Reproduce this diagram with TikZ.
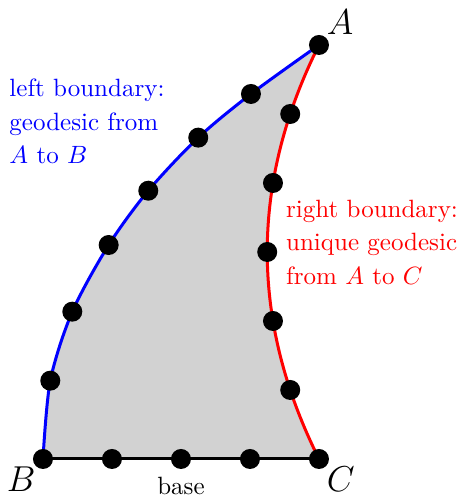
\documentclass[tikz,border=0pt]{standalone}
\usetikzlibrary{positioning}

\begin{document}
\begin{tikzpicture}[x=0.97cm, y=0.97cm,
                    side/.style={very thick},
                    corner/.style={font=\Large, inner sep=1pt},
                    note/.style={align=left, inner sep=0pt, anchor=north west,
                                 font=\fontsize{10}{13.4}\selectfont}
                    ]
                    \useasboundingbox (-0.623,-0.551) rectangle (6.072,6.652);

                    \coordinate (B) at (0,0);
                    \coordinate (C) at (4,0);
                    \coordinate (A) at (4,6);

                    % points on the left side
                    \coordinate (l1) at (0.106,1.135);
                    \coordinate (l2) at (0.425,2.135);
                    \coordinate (l3) at (0.952,3.101);
                    \coordinate (l4) at (1.526,3.888);
                    \coordinate (l5) at (2.250,4.657);
                    \coordinate (l6) at (3.014,5.290);

                    % points on the right side and on the base
                    \foreach \k in {1,...,5}{
                        \coordinate (r\k) at ({4-\k*(6-\k)/12},\k);
                    }
                    \foreach \k in {1,2,3}{
                        \coordinate (b\k) at (\k,0);
                    }

                    \fill[gray!35] plot[smooth] coordinates {(B) (l1) (l2) (l3) (l4) (l5) (l6) (A)}
                        .. controls (3,4) and (3,2) .. (C) -- cycle;

                    \draw[side, blue] plot[smooth] coordinates {(B) (l1) (l2) (l3) (l4) (l5) (l6) (A)};
                    \draw[side, red] (C) .. controls (3,2) and (3,4) .. (A);
                    \draw[side] (B) -- (C);

                    \foreach \p in {A,B,C,l1,l2,l3,l4,l5,l6,r1,r2,r3,r4,r5,b1,b2,b3}{
                        \fill (\p) circle (4pt);
                    }

                    \node[corner, above right=3pt and 2pt of A] (labelA) {$A$};
                    \node[corner, below left=2pt and 1.8pt of B] (labelB) {$B$};
                    \node[corner, below right=2pt and 2pt of C] (labelC) {$C$};
                    \node[inner sep=0pt, below=7pt of b2] (base) {base};

                    \node[note, text=blue] (left) at (-0.493,5.514) {left boundary:\\geodesic from\\$A$ to $B$};
                    \node[note, text=red] (right) at (3.517,3.764) {right boundary:\\unique geodesic\\from $A$ to $C$};

                \end{tikzpicture}
\end{document}
